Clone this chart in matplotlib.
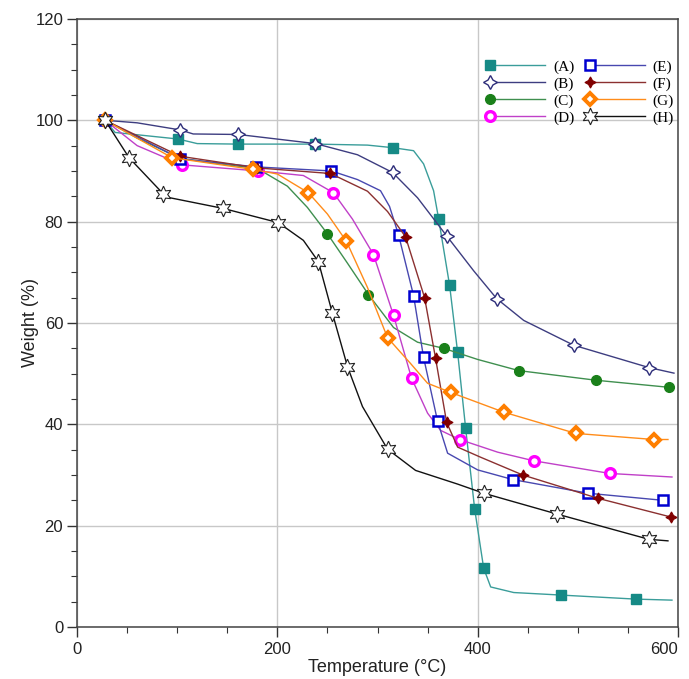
import matplotlib
matplotlib.use("Agg")
import matplotlib.pyplot as plt
from matplotlib.legend_handler import HandlerLine2D
from matplotlib.ticker import MultipleLocator

# TGA curves (temperature in C, weight in %)
A_t = [28, 38, 101, 120, 161, 238, 290, 315, 336, 346, 356, 361, 372, 380, 388, 397, 406, 413, 436, 483, 558, 594]
A_w = [100, 97.6, 96.3, 95.4, 95.3, 95.3, 95.1, 94.6, 94.0, 91.4, 86.1, 80.6, 67.4, 54.2, 39.2, 23.3, 11.6, 7.9, 6.8, 6.3, 5.5, 5.3]
A_mk = [28, 101, 161, 238, 315, 361, 372, 380, 388, 397, 406, 483, 558]

B_t = [28, 60, 103, 116, 161, 238, 280, 315, 340, 369, 396, 419, 446, 496, 571, 596]
B_w = [100, 99.5, 98.1, 97.3, 97.2, 95.4, 93.2, 89.7, 84.7, 77.2, 70.3, 64.8, 60.5, 55.6, 51.2, 50.1]
B_mk = [28, 103, 161, 238, 315, 369, 419, 496, 571]

C_t = [28, 60, 103, 150, 180, 210, 230, 250, 270, 291, 316, 340, 366, 400, 441, 518, 591]
C_w = [100, 96.5, 92.5, 91.2, 90.5, 87.0, 82.8, 77.6, 71.8, 65.6, 59.1, 56.2, 55.0, 52.8, 50.6, 48.7, 47.3]
C_mk = [28, 103, 180, 250, 291, 366, 441, 518, 591]

D_t = [28, 60, 105, 181, 226, 256, 275, 296, 316, 334, 350, 363, 382, 420, 456, 532, 594]
D_w = [100, 95.0, 91.2, 90.0, 89.1, 85.7, 80.5, 73.5, 61.5, 49.1, 42.2, 38.8, 37.0, 34.5, 32.8, 30.3, 29.6]
D_mk = [28, 105, 181, 256, 296, 316, 334, 382, 456, 532]

E_t = [28, 103, 179, 254, 280, 303, 312, 321, 336, 346, 360, 370, 400, 435, 510, 585]
E_w = [100, 92.4, 90.8, 90.0, 88.3, 86.1, 83.0, 77.4, 65.4, 53.2, 40.6, 34.3, 31.0, 29.1, 26.4, 25.0]
E_mk = [28, 103, 179, 254, 321, 336, 346, 360, 435, 510, 585]

F_t = [28, 103, 180, 253, 290, 310, 328, 347, 358, 369, 380, 403, 445, 520, 593]
F_w = [100, 92.9, 90.6, 89.5, 86.0, 82.0, 77.0, 65.0, 53.0, 40.4, 35.5, 33.5, 30.0, 25.4, 21.7]
F_mk = [28, 103, 180, 253, 328, 347, 358, 369, 445, 520, 593]

G_t = [28, 95, 176, 200, 231, 250, 269, 290, 310, 333, 350, 373, 426, 498, 576, 590]
G_w = [100, 92.6, 90.3, 89.4, 85.7, 81.5, 76.1, 67.0, 57.1, 52.0, 48.1, 46.3, 42.4, 38.2, 37.0, 37.0]
G_mk = [28, 95, 176, 231, 269, 310, 373, 426, 498, 576]

H_t = [28, 52, 86, 93, 146, 201, 226, 241, 255, 270, 285, 310, 338, 380, 406, 479, 571, 590]
H_w = [100, 92.6, 85.5, 84.7, 82.6, 79.8, 76.3, 72.1, 61.9, 51.4, 43.5, 35.1, 30.9, 28.2, 26.4, 22.3, 17.3, 17.0]
H_mk = [28, 52, 86, 146, 201, 241, 255, 270, 310, 406, 479, 571]

labels = ["(A)", "(B)", "(C)", "(D)", "(E)", "(F)", "(G)", "(H)"]


class LeftMarker(HandlerLine2D):
    # legend marker sits at the left end of the line, like the original
    def create_artists(self, *args, **kwargs):
        arts = super().create_artists(*args, **kwargs)
        arts[0].set_markevery([0])
        return arts


plt.rcParams['font.family'] = ['Liberation Sans', 'DejaVu Sans']

fig = plt.figure(figsize=(6.89, 6.79), dpi=100)
ax = fig.add_axes([0.1118, 0.0766, 0.8722, 0.8955])

series = [
    (A_t, A_w, A_mk, dict(color='#3a9d9a', marker='s', ms=6.5, mfc='#168a86', mec='#168a86')),
    (B_t, B_w, B_mk, dict(color='#3d3d80', marker=(4, 1, 0), ms=10, mfc='white', mec='#2e2e7a', mew=1.0)),
    (C_t, C_w, C_mk, dict(color='#3f8f4f', marker='o', ms=7, mfc='#1a801a', mec='#1a801a')),
    (D_t, D_w, D_mk, dict(color='#c040c8', marker='o', ms=7, mfc='white', mec='#ff00ff', mew=2.4)),
    (E_t, E_w, E_mk, dict(color='#4848b0', marker='s', ms=7, mfc='white', mec='#0000d0', mew=1.8)),
    (F_t, F_w, F_mk, dict(color='#8b3030', marker=(4, 1, 0), ms=8, mfc='#800000', mec='#800000', mew=0.8)),
    (G_t, G_w, G_mk, dict(color='#ff8c1a', marker='D', ms=6.5, mfc='white', mec='#ff7f00', mew=2.8)),
    (H_t, H_w, H_mk, dict(color='#111111', marker=(6, 1, 0), ms=12, mfc='white', mec='#222222', mew=0.8)),
]

handles = []
for (t, w, mk, style), lab in zip(series, labels):
    idx = [t.index(v) for v in mk]
    ln, = ax.plot(t, w, lw=1.0, markevery=idx, label=lab, clip_on=False, **style)
    handles.append(ln)

ax.set_xlim(0, 600)
ax.set_ylim(0, 120)
ax.xaxis.set_minor_locator(MultipleLocator(50))
ax.yaxis.set_major_locator(MultipleLocator(20))
ax.yaxis.set_minor_locator(MultipleLocator(5))
ax.tick_params(which='major', direction='out', length=7, width=1, labelsize=12, colors='#333333', labelcolor='#222222')
ax.tick_params(which='minor', direction='out', length=4, width=0.8, colors='#333333')
ax.tick_params(axis='y', pad=3)
for s in ax.spines.values():
    s.set_color('#444444')
    s.set_linewidth(1.1)
ax.grid(True, which='major', color='#c8c8c8', lw=1.0)
ax.set_axisbelow(True)
ax.set_xticks([0, 200, 400, 600])
ax.set_xticklabels(['0', '200', '400', '600'])
# keep the last x label inside the figure edge
ax.get_xticklabels()[-1].set_horizontalalignment('right')

ax.set_xlabel('Temperature (°C)', fontsize=13, color='#222222', labelpad=2)
ax.set_ylabel('Weight (%)', fontsize=13, color='#222222', labelpad=-3)

leg = ax.legend(handles=handles, ncol=2, loc='upper left', bbox_to_anchor=(0.665, 0.955),
                frameon=False, handlelength=3.6, handletextpad=0.5, columnspacing=1.0,
                labelspacing=0.2, prop={'family': 'Liberation Serif', 'size': 11},
                handler_map={l: LeftMarker(numpoints=1) for l in handles})

fig.savefig('out.png', dpi=100)
